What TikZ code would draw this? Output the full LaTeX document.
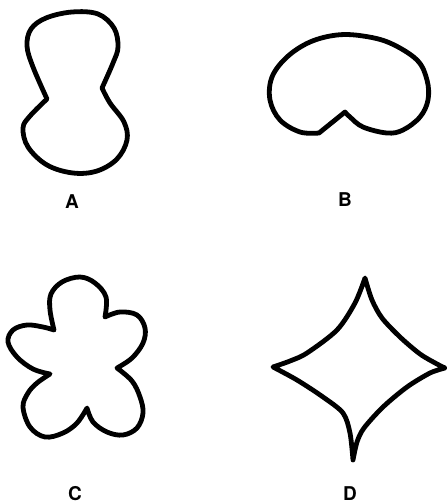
\documentclass[tikz,border=0pt]{standalone}
\usepackage{fontspec}
\setmainfont{TeX Gyre Heros}
\begin{document}
\begin{tikzpicture}[x=1pt,y=-1pt,
  outline/.style={line width=4.8pt,line join=round,line cap=round},
  lbl/.style={font=\fontsize{19}{19}\selectfont\bfseries,inner sep=0pt}]
\useasboundingbox (0,0) rectangle (447,504);
% A
\draw[outline] plot[smooth,tension=0.6] coordinates{(47,99)(33,67)(27,46)(31,29)(46,18)(72,12)(98,14)(114,28)(118,47)(113,63)(102,88)}
  -- plot[smooth,tension=0.6] coordinates{(102,88)(110,103)(124,122)(127,140)(117,159)(97,171)(73,173)(47,165)(28,147)(23,128)(30,116)(47,99)} -- cycle;
\node[lbl] (la) at (72,202) {A};
% B
\draw[outline] plot[smooth,tension=0.6] coordinates{(345,112)(350,117)(363,127)(387,133)(403,130)(420,117)(428,100)(427,80)(417,60)(390,43)(363,36)(337,35)(310,42)(287,57)(272,77)(270,100)(280,120)(300,132)(319,133)}
  -- cycle;
\node[lbl] (lb) at (345,200) {B};
% C
\draw[outline] plot[smooth,tension=0.6] coordinates{(54,330)(50,310)(51,294)(62,282)(80,277)(95,283)(106,297)(105,317)}
  -- plot[smooth,tension=0.6] coordinates{(105,317)(120,312)(137,315)(145,328)(143,343)(132,358)(117,368)}
  -- plot[smooth,tension=0.6] coordinates{(117,368)(132,381)(140,397)(143,413)(137,428)(123,435)(107,432)(93,422)(87,408)}
  -- plot[smooth,tension=0.6] coordinates{(87,408)(77,423)(63,433)(45,437)(30,427)(23,407)(28,393)(37,383)(50,374)}
  -- plot[smooth,tension=0.6] coordinates{(50,374)(33,369)(17,357)(8,342)(13,330)(27,325)(43,327)(54,330)}
  -- cycle;
\node[lbl] (lc) at (75,494) {C};
% D
\draw[outline] plot[smooth,tension=0.5] coordinates{(365,278)(372,300)(382,318)(400,337)(420,354)(437,364)(445,368)}
  -- plot[smooth,tension=0.5] coordinates{(445,368)(430,373)(407,387)(383,407)(364,428)(357,442)(353,460)}
  -- plot[smooth,tension=0.5] coordinates{(353,460)(350,433)(343,413)(323,397)(297,380)(273,367)}
  -- plot[smooth,tension=0.5] coordinates{(273,367)(290,361)(307,353)(337,330)(355,303)(365,278)}
  -- cycle;
\node[lbl] (ld) at (350,494) {D};
\end{tikzpicture}
\end{document}
